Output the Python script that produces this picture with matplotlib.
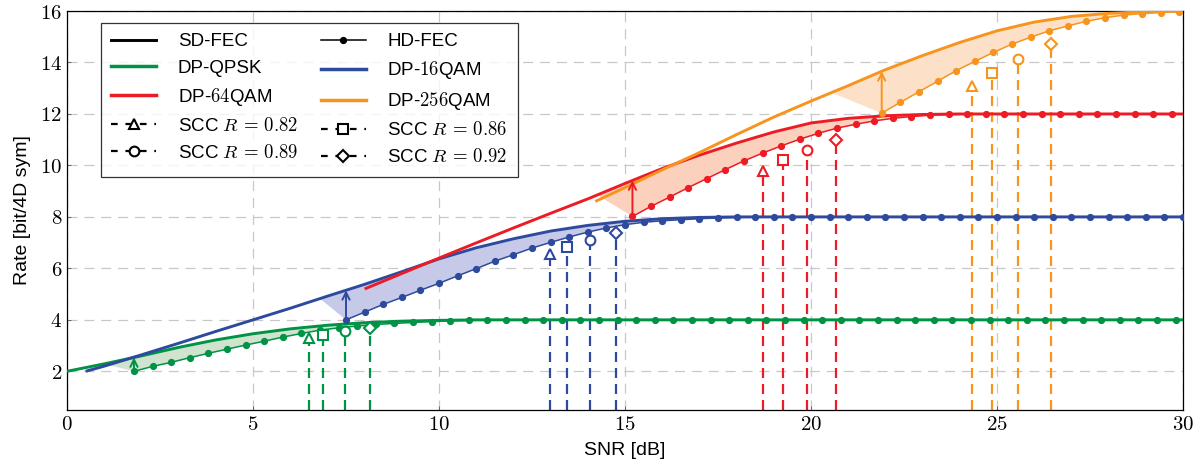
import numpy as np
import matplotlib
matplotlib.use('Agg')
import matplotlib.pyplot as plt
from matplotlib.lines import Line2D
from matplotlib.ticker import FuncFormatter

plt.rcParams['font.family'] = ['Liberation Sans', 'DejaVu Sans']
plt.rcParams['mathtext.fontset'] = 'cm'

# colours
green = '#009245'
blue = '#2e4a9e'
red = '#ed1c24'
orange = '#f7941d'
fill_green = '#cfe3cf'
fill_blue = '#c6c9e8'
fill_red = '#fbd1be'
fill_orange = '#fde0c8'

# SD-FEC curves
qpsk_sd_x = [0, 1, 2, 3, 4, 5, 6, 7, 8, 9, 10, 11, 12, 30]
qpsk_sd_y = [2.0, 2.29, 2.6, 2.93, 3.22, 3.46, 3.65, 3.79, 3.89, 3.95, 3.98, 4.0, 4.0, 4.0]
qam16_sd_x = [0.5, 1, 2, 3, 4, 5, 6, 7, 8, 9, 10, 11, 12, 13, 14, 15, 16, 17, 18, 30]
qam16_sd_y = [2.0, 2.2, 2.64, 3.09, 3.55, 4.0, 4.45, 4.92, 5.38, 5.87, 6.37, 6.8, 7.15, 7.45,
              7.67, 7.83, 7.93, 7.98, 8.0, 8.0]
qam64_sd_x = [8, 9, 10, 11, 12, 13, 14, 15, 16, 17, 18, 19, 20, 21, 22, 23, 24, 30]
qam64_sd_y = [5.2, 5.8, 6.4, 6.99, 7.57, 8.14, 8.7, 9.3, 9.88, 10.4, 10.87, 11.3, 11.65, 11.83,
              11.93, 11.98, 12.0, 12.0]
qam256_sd_x = [14.2, 15, 16, 17, 18, 19, 20, 21, 22, 23, 24, 25, 26, 27, 28, 29, 30]
qam256_sd_y = [8.6, 9.14, 9.83, 10.5, 11.2, 11.88, 12.5, 13.1, 13.72, 14.27, 14.78, 15.23, 15.57,
               15.79, 15.91, 15.97, 16.0]

# HD-FEC curves, one dot every 0.5 dB, last entry is the line end at 30 dB
qpsk_hd_x = list(np.arange(1.8, 29.81, 0.5)) + [30]
qpsk_hd_y = [2.00, 2.19, 2.35, 2.53, 2.70, 2.86, 3.02, 3.17, 3.33, 3.47, 3.60, 3.69, 3.76, 3.82,
             3.86, 3.90, 3.93, 3.96, 3.98, 3.99,
             4.0, 4.0, 4.0, 4.0, 4.0, 4.0, 4.0, 4.0, 4.0, 4.0, 4.0, 4.0, 4.0, 4.0, 4.0, 4.0, 4.0,
             4.0, 4.0, 4.0, 4.0, 4.0, 4.0, 4.0, 4.0, 4.0, 4.0, 4.0, 4.0, 4.0, 4.0, 4.0, 4.0, 4.0,
             4.0, 4.0, 4.0, 4.0]
qam16_hd_x = list(np.arange(7.5, 30.01, 0.5))
qam16_hd_y = [4.0, 4.3, 4.6, 4.87, 5.15, 5.42, 5.71, 5.99, 6.28, 6.53, 6.79, 7.01, 7.22, 7.41,
              7.57, 7.70, 7.79, 7.85, 7.89, 7.93, 7.96, 7.98, 7.99,
              8.0, 8.0, 8.0, 8.0, 8.0, 8.0, 8.0, 8.0, 8.0, 8.0, 8.0, 8.0, 8.0, 8.0, 8.0, 8.0,
              8.0, 8.0, 8.0, 8.0, 8.0, 8.0, 8.0]
qam64_hd_x = list(np.arange(15.2, 29.71, 0.5)) + [30]
qam64_hd_y = [8.02, 8.41, 8.77, 9.14, 9.49, 9.84, 10.18, 10.48, 10.76, 11.02, 11.25, 11.45, 11.60,
              11.73, 11.83, 11.90, 11.95, 11.98, 11.99,
              12.0, 12.0, 12.0, 12.0, 12.0, 12.0, 12.0, 12.0, 12.0, 12.0, 12.0, 12.0]
qam256_hd_x = list(np.arange(21.9, 29.91, 0.5)) + [30]
qam256_hd_y = [12.03, 12.45, 12.86, 13.27, 13.68, 14.04, 14.39, 14.71, 14.98, 15.23, 15.42, 15.60,
               15.74, 15.84, 15.90, 15.94, 15.98, 16.0]

# where the shaded gap starts on the SD curve
fill_start = [1.0, 6.8, 14.25, 20.55]

# SCC operating points (triangle, square, circle, diamond)
qpsk_scc_x = [6.5, 6.88, 7.46, 8.15]
qpsk_scc_y = [3.31, 3.41, 3.56, 3.67]
qam16_scc_x = [12.97, 13.45, 14.06, 14.76]
qam16_scc_y = [6.56, 6.82, 7.12, 7.38]
qam64_scc_x = [18.7, 19.24, 19.9, 20.67]
qam64_scc_y = [9.8, 10.2, 10.6, 11.0]
qam256_scc_x = [24.32, 24.87, 25.56, 26.45]
qam256_scc_y = [13.1, 13.6, 14.15, 14.72]
scc_markers = ['^', 's', 'o', 'D']
scc_labels = ['SCC $R\\,=\\,0.82$', 'SCC $R\\,=\\,0.86$', 'SCC $R\\,=\\,0.89$', 'SCC $R\\,=\\,0.92$']

ymin = 0.5

fig = plt.figure(figsize=(12.03, 4.75), dpi=100)
ax = fig.add_axes([0.0557, 0.137, 0.9277, 0.8398])

series = [
    (qpsk_sd_x, qpsk_sd_y, qpsk_hd_x, qpsk_hd_y, qpsk_scc_x, qpsk_scc_y, green, fill_green, True),
    (qam16_sd_x, qam16_sd_y, qam16_hd_x, qam16_hd_y, qam16_scc_x, qam16_scc_y, blue, fill_blue, False),
    (qam64_sd_x, qam64_sd_y, qam64_hd_x, qam64_hd_y, qam64_scc_x, qam64_scc_y, red, fill_red, True),
    (qam256_sd_x, qam256_sd_y, qam256_hd_x, qam256_hd_y, qam256_scc_x, qam256_scc_y, orange, fill_orange, True),
]

for i, (sx, sy, hx, hy, cx, cy, c, fc, last_no_marker) in enumerate(series):
    sx = np.array(sx, float)
    sy = np.array(sy, float)
    hx = np.array(hx, float)
    hy = np.array(hy, float)
    x0 = fill_start[i]
    keep = sx > x0
    px = np.concatenate([[x0], sx[keep], hx[::-1]])
    py = np.concatenate([[np.interp(x0, sx, sy)], sy[keep], hy[::-1]])
    ax.fill(px, py, color=fc, lw=0, zorder=1)

    # scc markers with dashed drop lines
    for j in range(4):
        ax.plot([cx[j], cx[j]], [ymin, cy[j] - 0.22], color=c, lw=1.6,
                linestyle=(0, (4.5, 2.7)), zorder=2)
        ax.plot(cx[j], cy[j], marker=scc_markers[j], ms=7 if scc_markers[j] != 'D' else 6,
                mfc='white', mec=c, mew=1.5, ls='none', zorder=5)

    ax.plot(sx, sy, color=c, lw=2.1, zorder=3, solid_capstyle='butt')
    me = slice(0, len(hx) - 1) if last_no_marker else None
    ax.plot(hx, hy, color=c, lw=1.1, marker='o', ms=4.2, markevery=me, zorder=4)

    ax.annotate('', xy=(hx[0], np.interp(hx[0], sx, sy)), xytext=(hx[0], hy[0]),
                arrowprops=dict(arrowstyle='->', color=c, lw=1.4, shrinkA=0, shrinkB=0,
                                mutation_scale=13), zorder=4)

ax.set_xlim(0, 30)
ax.set_ylim(ymin, 16)
ax.set_xticks([0, 5, 10, 15, 20, 25, 30])
ax.set_yticks([2, 4, 6, 8, 10, 12, 14, 16])
fmt = FuncFormatter(lambda v, p: '$%g$' % v)
ax.xaxis.set_major_formatter(fmt)
ax.yaxis.set_major_formatter(fmt)
ax.tick_params(direction='in', length=3, width=0.6, labelsize=15, color='#555555')
ax.grid(True, color='#c8c8c8', lw=0.9, linestyle=(0, (8, 5.5)))
ax.set_axisbelow(True)
for s in ax.spines.values():
    s.set_linewidth(0.9)
ax.set_xlabel('SNR [dB]', fontsize=14, labelpad=6)
ax.set_ylabel('Rate [bit/4D sym]', fontsize=14, labelpad=6)

# legend, filled column by column
k = 'black'
h_sd = Line2D([], [], color=k, lw=2.1)
h_hd = Line2D([], [], color=k, lw=1.1, marker='o', ms=4.2)
h_g = Line2D([], [], color=green, lw=2.5)
h_b = Line2D([], [], color=blue, lw=2.5)
h_r = Line2D([], [], color=red, lw=2.5)
h_o = Line2D([], [], color=orange, lw=2.5)
h_scc = [Line2D([], [], color=k, lw=1.6, linestyle=(0, (3, 3.5)), marker=m,
                ms=7 if m != 'D' else 6, mfc='white', mec=k, mew=1.5) for m in scc_markers]
handles = [h_sd, h_g, h_r, h_scc[0], h_scc[2], h_hd, h_b, h_o, h_scc[1], h_scc[3]]
labels = ['SD-FEC', 'DP-QPSK', 'DP-$64$QAM', scc_labels[0], scc_labels[2],
          'HD-FEC', 'DP-$16$QAM', 'DP-$256$QAM', scc_labels[1], scc_labels[3]]
leg = ax.legend(handles, labels, ncol=2, loc='upper left', bbox_to_anchor=(0.0305, 0.970),
                borderaxespad=0, fontsize=13.5, frameon=True, fancybox=False,
                edgecolor='black', handlelength=2.4, columnspacing=1.2, labelspacing=0.48,
                borderpad=0.55, handletextpad=1.15)
leg.get_frame().set_linewidth(0.9)
leg.set_zorder(10)

fig.savefig('out.png', dpi=100)
